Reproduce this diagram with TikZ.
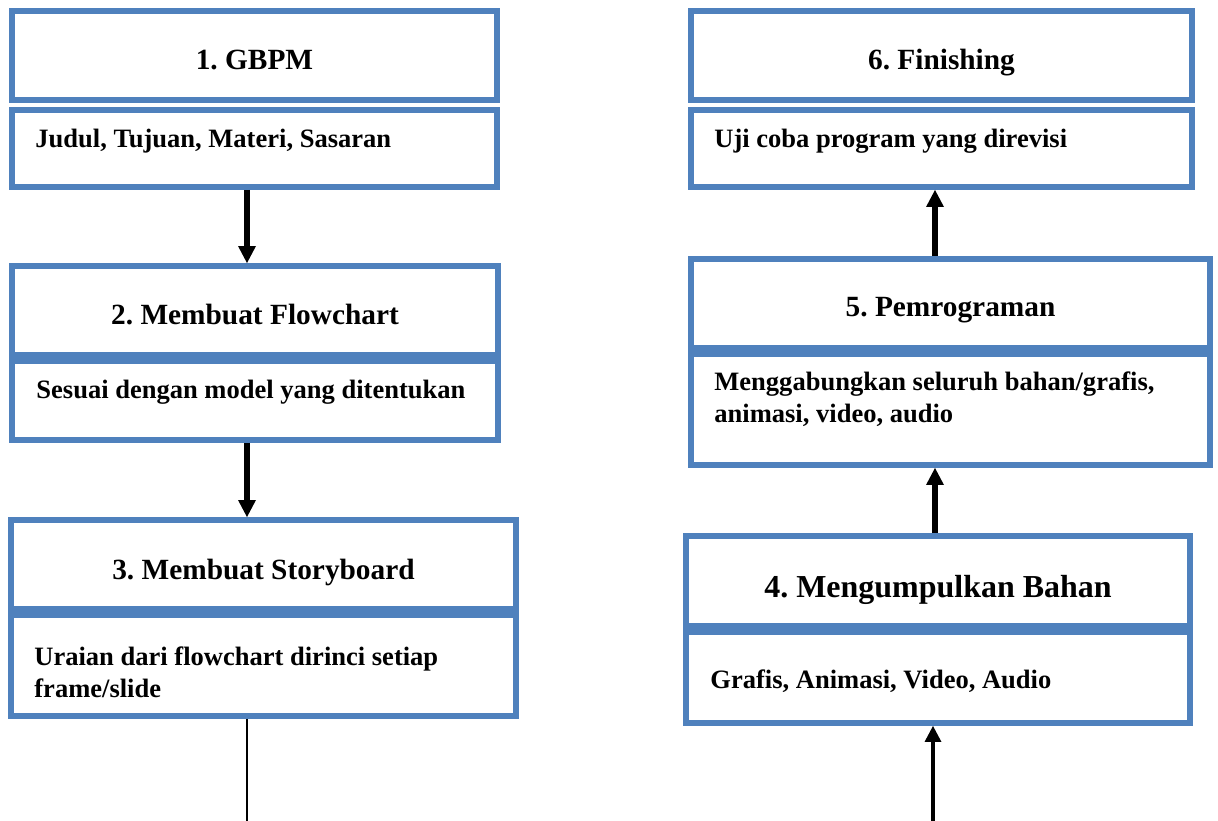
\documentclass[tikz,border=0pt]{standalone}
\usepackage{fontspec}
\setmainfont{Liberation Serif}
\frenchspacing
\usetikzlibrary{arrows.meta}
\definecolor{boxblue}{RGB}{79,129,189}
\tikzset{
  box/.style={draw=boxblue, line width=0.12cm},
  head/.style={box, minimum height=1.78cm, text height=0.58cm, text depth=0pt,
    font=\bfseries\fontsize{16.7}{20}\selectfont},
  subtext/.style={anchor=base west, inner sep=0pt, align=left,
    font=\bfseries\fontsize{15.1}{18.1}\selectfont},
  flow/.style={line width=0.11cm, -{Triangle[width=0.36cm,length=0.34cm,line width=0pt]}},
  thinflow/.style={line width=0.065cm, -{Triangle[width=0.34cm,length=0.32cm,line width=0pt]}},
}

\begin{document}
\begin{tikzpicture}[x=0.02cm, y=-0.02cm]
\path[use as bounding box, fill=white] (0,0) rectangle (1218,821);
\coordinate (lx) at (247,0);
\coordinate (rx) at (935,0);

\node[head, minimum width=9.70cm] (h1) at (254.5,55.5) {1. GBPM};
\node[box, minimum width=9.70cm, minimum height=1.54cm] (s1) at (254.5,148.5) {};
\node[head, minimum width=9.72cm] (h2) at (255,310.5) {2. Membuat Flowchart};
\node[box, minimum width=9.72cm, minimum height=1.58cm] (s2) at (255,400.5) {};
\node[head, minimum width=10.10cm] (h3) at (263.5,564.5) {3. Membuat Storyboard};
\node[box, minimum width=10.10cm, minimum height=2.02cm] (s3) at (263.5,665.5) {};

\node[head, minimum width=10.02cm] (h6) at (941.5,55.5) {6. Finishing};
\node[box, minimum width=10.02cm, minimum height=1.54cm] (s6) at (941.5,148.5) {};
\node[head, minimum width=10.38cm, text height=0.54cm] (h5) at (950.5,303.5) {5. Pemrograman};
\node[box, minimum width=10.38cm, minimum height=2.22cm] (s5) at (950.5,409.5) {};
\node[head, minimum width=10.08cm, minimum height=1.80cm, text height=0.68cm,
  font=\bfseries\fontsize{18.2}{22}\selectfont] (h4) at (938,581) {4. Mengumpulkan Bahan};
\node[box, minimum width=10.08cm, minimum height=1.82cm] (s4) at (938,677.5) {};

\node[subtext] (t1) at ([shift={(26,40)}]s1.north west) {Judul, Tujuan, Materi, Sasaran};
\node[subtext] (t2) at ([shift={(27,40)}]s2.north west) {Sesuai dengan model yang ditentukan};
\node[subtext] (t3) at ([shift={(26,85)}]s3.north west) {Uraian dari flowchart dirinci setiap\\frame/slide};
\node[subtext] (t6) at ([shift={(26,40)}]s6.north west) {Uji coba program yang direvisi};
\node[subtext] (t5) at ([shift={(26,71)}]s5.north west) {Menggabungkan seluruh bahan/grafis,\\animasi, video, audio};
\node[subtext] (t4) at ([shift={(27,59)}]s4.north west) {Grafis, Animasi, Video, Audio};

\draw[flow] (s1.south -| lx) -- (h2.north -| lx);
\draw[flow] (s2.south -| lx) -- (h3.north -| lx);
\draw[flow] (h5.north -| rx) -- (s6.south -| rx);
\draw[flow] (h4.north -| rx) -- (s5.south -| rx);
\coordinate (endL) at (247,821);
\draw[line width=0.045cm] (s3.south -| lx) -- (endL);
\coordinate (startR) at (933,821);
\draw[thinflow] (startR) -- (s4.south -| startR);
\end{tikzpicture}
\end{document}
